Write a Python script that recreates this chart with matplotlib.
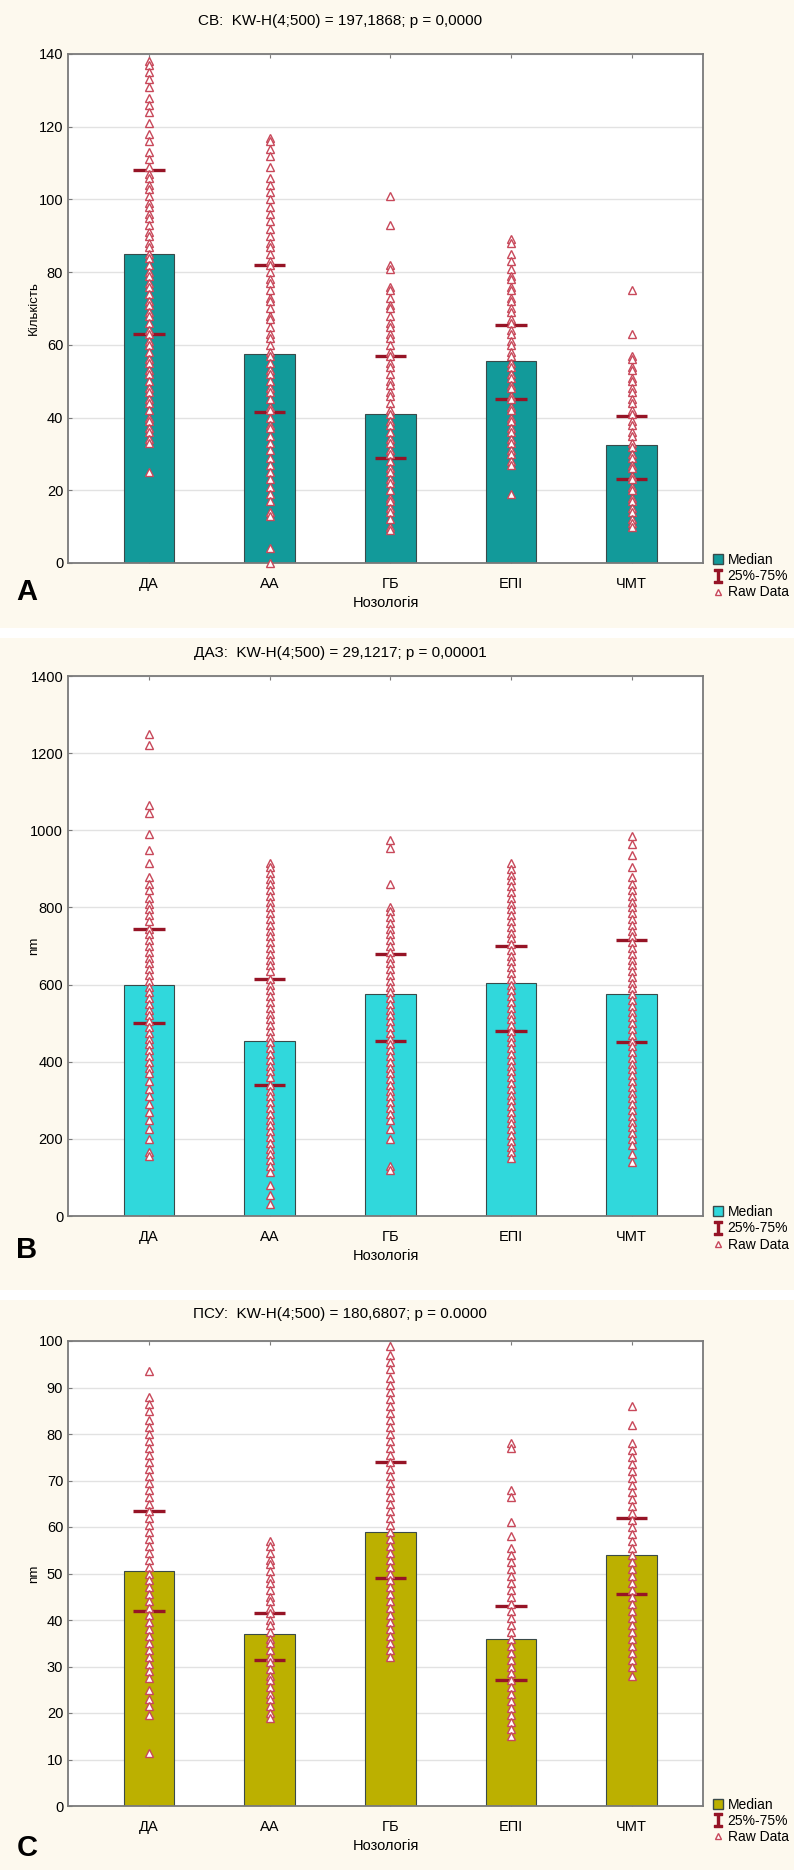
#!/usr/bin/env python3
# -*- coding: utf-8 -*-

"""Three panels of median bars with 25%-75% ranges and raw data per nosology"""

import matplotlib
matplotlib.use('Agg')
import matplotlib.pyplot as plt
from matplotlib.lines import Line2D
from matplotlib.patches import Rectangle

plt.rcParams['font.family'] = ['Liberation Sans', 'DejaVu Sans']

groups = ['ДА', 'АА', 'ГБ', 'ЕПІ', 'ЧМТ']

# Panel A - СВ
a_median = [85, 57.5, 41, 55.5, 32.5]
a_q1 = [63, 41.5, 29, 45, 23]
a_q3 = [108, 82, 57, 65.5, 40.5]
a_da = [138, 137, 135, 133, 131, 128, 126, 124, 121, 118, 116, 113, 111, 109, 107, 106, 104,
        103, 101, 99, 98, 96, 95, 93, 91, 90, 88, 87, 85, 84, 82, 80, 79, 77, 76, 74, 72, 71,
        69, 68, 66, 64, 63, 61, 60, 58, 56, 55, 53, 52, 50, 48, 47, 45, 44, 42, 40, 39, 37,
        36, 34, 33, 25]
a_aa = [117, 116, 114, 112, 109, 106, 104, 102, 100, 98, 96, 94, 92, 90, 88, 87, 85, 83, 82,
        80, 78, 77, 75, 73, 72, 70, 68, 67, 65, 63, 62, 60, 58, 57, 55, 53, 52, 50, 48, 47,
        45, 43, 42, 40, 38, 37, 35, 33, 31, 29, 27, 25, 23, 21, 19, 17, 14, 13, 4, 0]
a_gb = [101, 93, 82, 81, 76, 75, 73, 71, 70, 68, 66, 65, 63, 62, 60, 58, 57, 55, 54, 52, 50,
        49, 47, 46, 44, 42, 41, 39, 38, 36, 34, 33, 31, 30, 28, 26, 25, 23, 22, 20, 18, 17,
        15, 14, 12, 10, 9]
a_epi = [89, 88, 85, 83, 81, 79, 78, 76, 75, 73, 72, 70, 69, 67, 66, 64, 63, 61, 60, 58, 57,
         55, 54, 52, 51, 49, 48, 46, 45, 43, 42, 40, 39, 37, 36, 34, 33, 31, 30, 28, 27, 19]
a_chmt = [75, 63, 57, 56, 54, 53, 51, 50, 48, 47, 45, 44, 42, 41, 39, 38, 36, 35, 33, 32, 30,
          29, 27, 26, 24, 23, 21, 20, 18, 17, 15, 14, 12, 11, 10]

# Panel B - ДАЗ
b_median = [600, 455, 575, 605, 575]
b_q1 = [500, 340, 455, 480, 450]
b_q3 = [745, 615, 680, 700, 715]
b_da = [1250, 1220, 1065, 1045, 990, 950, 915, 880, 860, 845, 825, 810, 795, 780, 765, 745,
        730, 715, 700, 685, 670, 655, 640, 625, 610, 595, 580, 565, 550, 535, 520, 505, 490,
        475, 460, 445, 430, 415, 400, 385, 370, 350, 330, 310, 290, 270, 250, 225, 200, 165,
        155]
b_aa = [915, 905, 890, 875, 860, 845, 830, 815, 800, 785, 770, 755, 740, 725, 710, 695, 680,
        665, 650, 635, 615, 600, 585, 570, 555, 540, 525, 510, 495, 480, 465, 450, 435, 420,
        405, 390, 375, 360, 340, 325, 310, 295, 280, 265, 250, 235, 220, 205, 190, 175, 160,
        145, 130, 115, 80, 55, 30]
b_gb = [975, 955, 860, 800, 790, 775, 760, 745, 730, 715, 700, 685, 670, 655, 640, 625, 610,
        595, 580, 565, 550, 535, 520, 505, 490, 475, 460, 445, 430, 415, 400, 385, 370, 355,
        340, 325, 310, 295, 280, 265, 250, 225, 200, 130, 120]
b_epi = [915, 900, 885, 870, 855, 840, 825, 810, 795, 780, 765, 750, 735, 720, 705, 690, 675,
         660, 645, 630, 615, 600, 585, 570, 555, 540, 525, 510, 495, 480, 465, 450, 435, 420,
         405, 390, 375, 360, 345, 330, 315, 300, 285, 270, 255, 240, 225, 210, 195, 180, 165,
         150]
b_chmt = [985, 965, 935, 905, 880, 860, 845, 830, 815, 800, 785, 770, 755, 740, 725, 710, 695,
          680, 665, 650, 635, 620, 605, 590, 575, 560, 545, 530, 515, 500, 485, 470, 455, 440,
          425, 410, 395, 380, 365, 350, 335, 320, 305, 290, 275, 260, 245, 230, 215, 200, 185,
          160, 140]

# Panel C - ПСУ
c_median = [50.5, 37, 59, 36, 54]
c_q1 = [42, 31.5, 49, 27, 45.5]
c_q3 = [63.5, 41.5, 74, 43, 62]
c_da = [93.5, 88, 86.5, 85, 83, 81.5, 80, 78.5, 77, 75.5, 74, 72.5, 71, 69.5, 68, 66.5, 65,
        63.5, 62, 60.5, 59, 57.5, 56, 54.5, 53, 51.5, 50, 48.5, 47, 45.5, 44, 42.5, 41, 39.5,
        38, 36.5, 35, 33.5, 32, 30.5, 29, 27.5, 25, 23, 21.5, 19.5, 11.5]
c_aa = [57, 56, 54.5, 53, 52, 50.5, 49, 48, 46.5, 45, 44, 42.5, 41.5, 40, 39, 37.5, 36, 35,
        33.5, 32, 31, 29.5, 28, 27, 25.5, 24, 23, 21.5, 20, 19]
c_gb = [99, 97, 95.5, 94, 92, 90.5, 89, 87.5, 86, 84.5, 83, 81.5, 80, 78.5, 77, 75.5, 74,
        72.5, 71, 69.5, 68, 66.5, 65, 63.5, 62, 60.5, 59, 57.5, 56, 54.5, 53, 51.5, 50, 48.5,
        47, 45.5, 44, 42.5, 41, 39.5, 38, 36.5, 35, 33.5, 32]
c_epi = [78, 77, 68, 66.5, 61, 58, 55.5, 54, 52.5, 51, 49.5, 48, 46.5, 45, 43.5, 42, 40.5, 39,
         37.5, 36, 34.5, 33, 31.5, 30, 28.5, 27, 25.5, 24, 22.5, 21, 19.5, 18, 16.5, 15]
c_chmt = [86, 82, 78, 76.5, 75, 73.5, 72, 70.5, 69, 67.5, 66, 64.5, 63, 61.5, 60, 58.5, 57,
          55.5, 54, 52.5, 51, 49.5, 48, 46.5, 45, 43.5, 42, 40.5, 39, 37.5, 36, 34.5, 33, 31.5,
          30, 28]

W, H = 794, 1870
RED = '#961426'
RAW = '#c8485a'


def panel(fig, rect, title, title_y, ylabel, ymax, ystep, color, medians, q1, q3, raw,
          letter, letter_xy, bg):
    """Draw one panel"""

    # cream background of the panel
    fig.patches.append(Rectangle((0, 1 - bg[1] / H), 1, (bg[1] - bg[0]) / H,
                                 transform=fig.transFigure, facecolor='#fdf9ee',
                                 edgecolor='none', zorder=-10))

    ax = fig.add_axes(rect)
    ind = list(range(len(groups)))

    ax.bar(ind, medians, width=0.42, color=color, edgecolor='#3a4a4a', linewidth=0.8, zorder=2)
    for i in ind:
        ax.vlines(i, q1[i], q3[i], color=RED, linewidth=1.8, zorder=3)
        ax.hlines([q1[i], q3[i]], i - 0.13, i + 0.13, color=RED, linewidth=2.4, zorder=3)
        ax.plot([i] * len(raw[i]), raw[i], linestyle='none', marker='^', markersize=5.5,
                markerfacecolor='white', markeredgecolor=RAW, markeredgewidth=1.0, zorder=4,
                clip_on=False)

    ax.set_xlim(-0.67, len(groups) - 0.41)
    ax.set_ylim(0, ymax)
    ax.set_yticks(range(0, ymax + 1, ystep))
    ax.set_xticks(ind, groups)
    ax.grid(axis='y', color='#e2e2e2', linewidth=1.0, zorder=0)
    ax.set_axisbelow(True)
    for sp in ax.spines.values():
        sp.set_color('#7a7a7a')
        sp.set_linewidth(1.3)
    ax.tick_params(axis='both', labelsize=10.5, direction='in', length=3, color='#7a7a7a')
    ax.tick_params(axis='x', top=True, pad=10)
    ax.set_ylabel(ylabel, fontsize=9.5)
    ax.yaxis.set_label_coords(-0.044, 0.5)
    ax.set_xlabel('Нозологія', fontsize=10.5, labelpad=4)

    fig.text(340 / W, 1 - title_y / H, title, ha='center', va='center', fontsize=11)
    fig.text(letter_xy[0] / W, 1 - letter_xy[1] / H, letter, ha='center', va='center',
             fontsize=21, fontweight='bold')

    handles = [
        Line2D([], [], linestyle='none', marker='s', markersize=7, markerfacecolor=color,
               markeredgecolor='#3a4a4a'),
        Line2D([], [], linestyle='none', marker=r'$\mathtt{I}$', markersize=10, color=RED),
        Line2D([], [], linestyle='none', marker='^', markersize=5, markerfacecolor='white',
               markeredgecolor=RAW),
    ]
    ax.legend(handles, ['Median', '25%-75%', 'Raw Data'], loc='upper left',
              bbox_to_anchor=(1.008, 0.03), frameon=False, fontsize=10, handlelength=0.6,
              handletextpad=0.4, labelspacing=0.15, borderaxespad=0.0)
    return ax


def main():
    """Build the figure"""

    fig = plt.figure(figsize=(W / 100, H / 100), dpi=100)

    # axes rectangles from pixel edges: left, top, right, bottom
    def rect(l, t, r, b):
        return [l / W, 1 - b / H, (r - l) / W, (b - t) / H]

    panel(fig, rect(68, 54, 703, 563), 'СВ:  KW-H(4;500) = 197,1868; p = 0,0000', 21,
          'Кількість', 140, 20, '#129a9a', a_median, a_q1, a_q3,
          [a_da, a_aa, a_gb, a_epi, a_chmt], 'A', (27, 592), (0, 628))
    panel(fig, rect(68, 676, 703, 1216), 'ДАЗ:  KW-H(4;500) = 29,1217; p = 0,00001', 653,
          'nm', 1400, 200, '#30d8dc', b_median, b_q1, b_q3,
          [b_da, b_aa, b_gb, b_epi, b_chmt], 'B', (27, 1250), (638, 1290))
    panel(fig, rect(68, 1341, 703, 1806), 'ПСУ:  KW-H(4;500) = 180,6807; p = 0.0000', 1314,
          'nm', 100, 10, '#bcb000', c_median, c_q1, c_q3,
          [c_da, c_aa, c_gb, c_epi, c_chmt], 'C', (27, 1848), (1300, 1870))

    fig.savefig('out.png', dpi=100, facecolor='white')


if __name__ == '__main__':
    main()
